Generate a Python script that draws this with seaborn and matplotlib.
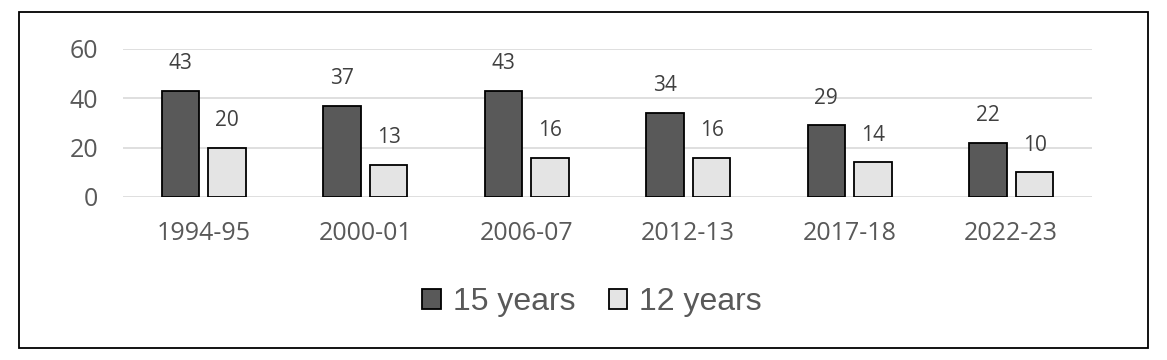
import matplotlib
matplotlib.use("Agg")
import matplotlib.pyplot as plt
import seaborn as sns
import pandas as pd
from matplotlib.patches import Rectangle

periods = ["1994-95", "2000-01", "2006-07", "2012-13", "2017-18", "2022-23"]
series_names = ["15 years", "12 years"]
values_15 = [43, 37, 43, 34, 29, 22]
values_12 = [20, 13, 16, 16, 14, 10]
yticks = [0, 20, 40, 60]

sns.set_theme(style="white")
plt.rcParams["font.family"] = ["Open Sans", "DejaVu Sans"]

df = pd.DataFrame({
    "period": periods * 2,
    "series": [series_names[0]] * len(periods) + [series_names[1]] * len(periods),
    "value": values_15 + values_12,
})

fig = plt.figure(figsize=(11.67, 3.6), dpi=100)
ax = fig.add_axes([0.1054, 0.4528, 0.8303, 0.4111])

light = "#e4e4e4"
sns.barplot(data=df, x="period", y="value", hue="series", order=periods,
            hue_order=series_names, palette=["#595959", light],
            width=0.58, gap=0.2, edgecolor="black", linewidth=1.3,
            saturation=1, errorbar=None, ax=ax, legend=True)

for cont in ax.containers:
    ax.bar_label(cont, padding=12, fontsize=15, color="#404040")

ax.set_ylim(0, 60)
ax.set_yticks(yticks)
ax.set_xlim(-0.5, len(periods) - 0.5)
ax.grid(axis="y", color="#d9d9d9", linewidth=1.2)
ax.set_axisbelow(True)
for s in ax.spines.values():
    s.set_visible(False)
ax.set_xlabel("")
ax.set_ylabel("")
ax.tick_params(axis="y", length=0, pad=18, labelsize=18, labelcolor="#595959")
ax.tick_params(axis="x", length=0, pad=17.5, labelsize=18, labelcolor="#595959")

leg = ax.legend(loc="center", bbox_to_anchor=(592 / 1167, (360 - 302) / 360),
                bbox_transform=fig.transFigure,
                ncol=2, frameon=False, prop={"family": "Liberation Sans", "size": 23},
                handlelength=0.58, handleheight=0.58, handletextpad=0.38, columnspacing=1.05,
                labelcolor="#595959")
for h in leg.legend_handles:
    h.set_edgecolor("black")
    h.set_linewidth(1.3)

fig.patches.append(Rectangle((19 / 1167, 12 / 360), (1148 - 19) / 1167, (348 - 12) / 360,
                             transform=fig.transFigure, fill=False, edgecolor="black",
                             linewidth=1.3, zorder=10))

fig.savefig("out.png", dpi=100)
